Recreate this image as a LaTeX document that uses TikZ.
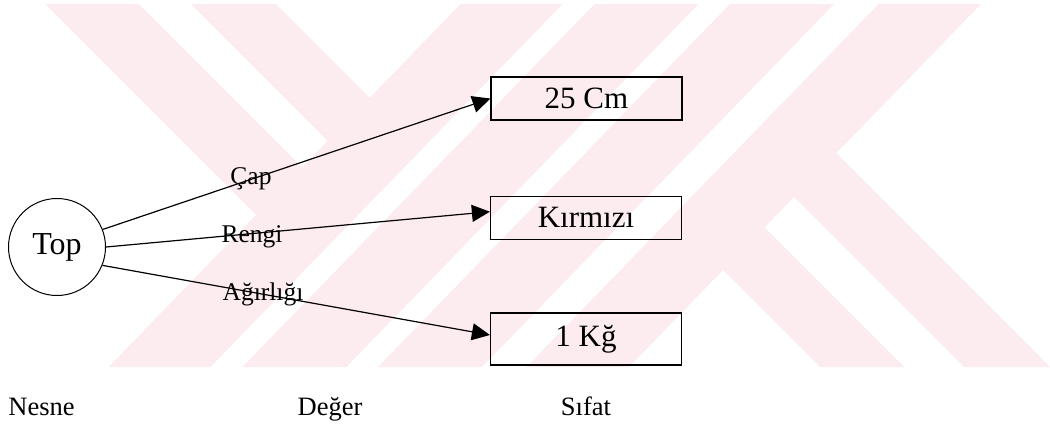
\documentclass[tikz,border=0pt]{standalone}
\usepackage{fontspec}
\setmainfont{Liberation Serif}
\usetikzlibrary{arrows.meta}
\definecolor{wmpink}{RGB}{252,235,239}

\begin{document}
\begin{tikzpicture}[x=0.5pt,y=-0.5pt,
  ball/.style={draw,circle,line width=0.5pt,minimum size=48.5pt,inner sep=0pt,font=\fontsize{16}{19}\selectfont},
  valbox/.style={draw,rectangle,line width=0.6pt,minimum width=95.5pt,minimum height=21.5pt,inner sep=0pt,font=\fontsize{15.5}{18}\selectfont},
  conn/.style={line width=0.6pt,-{Triangle[length=9pt,width=8.5pt]}},
  lbl/.style={inner sep=0pt,anchor=base,font=\fontsize{12.75}{15}\selectfont},
  foot/.style={inner sep=0pt,anchor=base,font=\fontsize{13.25}{16}\selectfont}]
\useasboundingbox (0,0) rectangle (1050,424);
% stripes behind everything
\fill[wmpink] (45.5,4) -- (138.6,4) -- (353.8,219.2) -- (307.9,266.4) -- cycle;
\fill[wmpink] (190.8,4) -- (275.9,4) -- (421.4,149.5) -- (379.5,192.7) -- cycle;
\fill[wmpink] (460.7,4) -- (562.5,4) -- (210.4,367) -- (108.6,367) -- cycle;
\fill[wmpink] (594.6,4) -- (698.4,4) -- (346.3,367) -- (242.5,367) -- cycle;
\fill[wmpink] (730,4) -- (834,4) -- (482,367) -- (378,367) -- cycle;
\fill[wmpink] (878.6,4) -- (981,4) -- (629,367) -- (526.5,367) -- cycle;
\fill[wmpink] (712.4,175.4) -- (904,367) -- (820,367) -- (671,218) -- cycle;
\fill[wmpink] (784.3,101.3) -- (1050,367) -- (964,367) -- (741.9,144.9) -- cycle;

\node[ball] (top) at (57,247) {Top};
\node[valbox] (cm) at (586.5,98.5) {25 Cm};
\node[valbox] (kirmizi) at (586,217.7) {Kırmızı};
\node[valbox,minimum height=26pt] (kg) at (586,339) {1 Kğ};

\draw[conn] (top.21) -- (cm.west);
\draw[conn] (top.east) -- ([yshift=3pt]kirmizi.west);
\draw[conn] (top.-22) -- ([yshift=2pt]kg.west);

\node[lbl] (cap) at (251,184) {Çap};
\node[lbl] (renk) at (252,242) {Rengi};
\node[lbl] (agirlik) at (263,300) {Ağırlığı};

\node[foot] (nesne) at (41.5,415) {Nesne};
\node[foot] (deger) at (330,415) {Değer};
\node[foot] (sifat) at (586,415) {Sıfat};
\end{tikzpicture}
\end{document}
